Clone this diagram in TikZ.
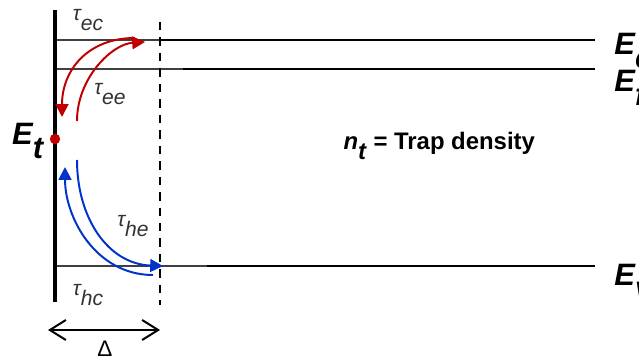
\documentclass[tikz,border=0pt]{standalone}
\usepackage{fontspec}
\setmainfont{Liberation Sans}
\usetikzlibrary{positioning, arrows.meta}
\definecolor{trapred}{RGB}{192,0,0}
\definecolor{trapblue}{RGB}{0,51,204}
\newcommand{\lowsub}[1]{\raisebox{-0.45em}{#1}}

\begin{document}
\begin{tikzpicture}[
        level/.style={line width=2.1pt},
        levelthin/.style={line width=1.4pt, black!75},
        bandlabel/.style={font=\fontsize{22}{24}\selectfont\bfseries\itshape, anchor=base west, inner sep=0pt},
        tau/.style={font=\fontsize{15}{17}\selectfont\itshape, text=black!80},
        redarc/.style={line width=1.4pt, trapred, -{Triangle[length=3.2mm,width=3.2mm]}},
        bluearc/.style={line width=1.4pt, trapblue, -{Triangle[length=3.2mm,width=3.2mm]}}
    ]
        \useasboundingbox (0,0) rectangle (15.975,8.95);
        %
        \draw[levelthin] (1.425,7.95)--(4.0,7.95);
        \draw[level] (4.0,7.95)--++ (10.875,0) node[bandlabel, xshift=0.45cm, yshift=-0.375cm] (Ec) {E\lowsub{c}};
        \draw[levelthin] (1.425,7.225)--(4.575,7.225);
        \draw[level] (4.575,7.225)--++ (10.3,0) node[bandlabel, xshift=0.45cm, yshift=-0.575cm] (Ef) {E\lowsub{f}};
        \draw[levelthin] (1.425,2.3)--(5.175,2.3);
        \draw[level] (5.175,2.3)--++ (9.7,0) node[bandlabel, xshift=0.45cm, yshift=-0.475cm] (Ev) {E\lowsub{v}};
        %
        \draw[line width=3.5pt] (1.375,8.7)--(1.375,1.4);
        \draw[line width=1.3pt, dash pattern=on 6pt off 5pt] (4.0,8.4)--(4.0,1.325);
        %
        \node[circle, fill=trapred, minimum size=0.26cm, inner sep=0pt] (trap) at (1.375,5.475) {};
        \node[font=\fontsize{22}{24}\selectfont\bfseries\itshape, left=1pt of trap, yshift=-0.05cm] (Et) {E\lowsub{t}};
        \node[font=\fontsize{17}{19}\selectfont\bfseries] (nt) at (10.98,5.3) {\textit{n}\lowsub{\textit{t}} = Trap density};
        %
        \coordinate (ecout) at (3.375,8.0);
        \coordinate (ecin) at (1.55,6.025);
        \coordinate (eefrom) at (1.925,5.925);
        \coordinate (eeto) at (3.625,7.9);
        \draw[redarc] (ecout) .. controls (2.2,8.0) and (1.55,7.2) .. (ecin);
        \draw[redarc] (eefrom) .. controls (1.925,7.0) and (2.8,7.85) .. (eeto);
        %
        \coordinate (hcout) at (3.825,2.075);
        \coordinate (hcin) at (1.625,4.775);
        \coordinate (hefrom) at (1.925,4.95);
        \coordinate (heto) at (4.075,2.3);
        \draw[bluearc] (hcout) .. controls (2.4,2.075) and (1.625,3.5) .. (hcin);
        \draw[bluearc] (hefrom) .. controls (1.925,3.5) and (2.7,2.35) .. (heto);
        %
        \node[tau] (tauec) at (2.2,8.45) {τ\lowsub{ec}};
        \node[tau] (tauee) at (2.75,6.6) {τ\lowsub{ee}};
        \node[tau] (tauhe) at (3.325,3.3) {τ\lowsub{he}};
        \node[tau] (tauhc) at (2.2,1.58) {τ\lowsub{hc}};
        %
        \coordinate (dleft) at (1.2,0.7);
        \coordinate (dright) at (4.0,0.7);
        \draw[line width=1.4pt, {Straight Barb[length=4mm,width=5mm]}-{Straight Barb[length=4mm,width=5mm]}] (dleft)--(dright);
        \node[font=\fontsize{16}{18}\selectfont] (delta) at (2.625,0.24) {Δ};
    \end{tikzpicture}
\end{document}
